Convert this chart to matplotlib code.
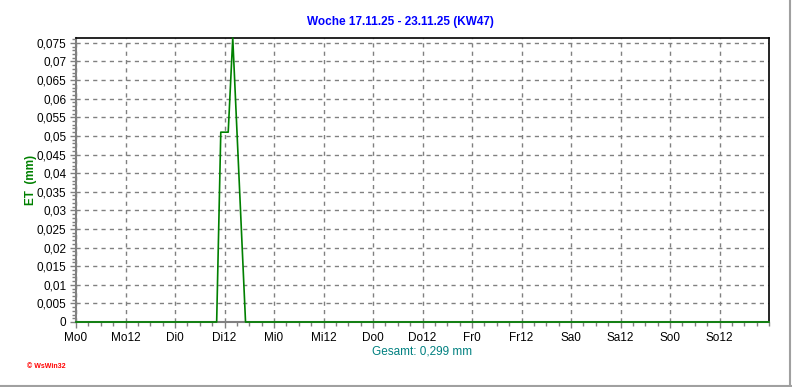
import matplotlib
matplotlib.use("Agg")
import matplotlib.pyplot as plt
from matplotlib.ticker import MultipleLocator
from matplotlib.lines import Line2D

# Data (hours since Monday 0:00, ET in mm)
hours = [0, 34.1, 35.1, 36.9, 38.0, 41.1, 168]
et_values = [0, 0, 0.051, 0.051, 0.0763, 0, 0]

x_tick_pos = [0, 12, 24, 36, 48, 60, 72, 84, 96, 108, 120, 132, 144, 156]
x_tick_labels = ["Mo0", "Mo12", "Di0", "Di12", "Mi0", "Mi12", "Do0", "Do12",
                 "Fr0", "Fr12", "Sa0", "Sa12", "So0", "So12"]
y_tick_pos = [0, 0.005, 0.01, 0.015, 0.02, 0.025, 0.03, 0.035, 0.04, 0.045,
              0.05, 0.055, 0.06, 0.065, 0.07, 0.075]
y_tick_labels = ["0", "0,005", "0,01", "0,015", "0,02", "0,025", "0,03", "0,035",
                 "0,04", "0,045", "0,05", "0,055", "0,06", "0,065", "0,07", "0,075"]

title = "Woche 17.11.25 - 23.11.25 (KW47)"
ylabel = "ET  (mm)"
xlabel = "Gesamt: 0,299 mm"

plt.rcParams['font.family'] = ['Liberation Sans', 'DejaVu Sans']

W, H = 792, 387
fig = plt.figure(figsize=(W / 100, H / 100), dpi=100)
fig.patch.set_facecolor("white")
ax = fig.add_axes([76 / W, 1 - 322 / H, (769 - 76) / W, (322 - 38) / H])

ax.plot(hours, et_values, color="#008000", lw=1.2, clip_on=False, zorder=5)

ax.set_xlim(0, 168)
ax.set_ylim(0, 0.0763)
ax.set_xticks(x_tick_pos)
ax.set_xticklabels(x_tick_labels, fontsize=8.5)
ax.set_yticks(y_tick_pos)
ax.set_yticklabels(y_tick_labels, fontsize=8.5)
ax.xaxis.set_minor_locator(MultipleLocator(3))
ax.yaxis.set_minor_locator(MultipleLocator(0.001))

ax.tick_params(axis="both", which="major", direction="out", length=4,
               color="#808080", width=1, pad=3, labelcolor="black")
ax.tick_params(axis="both", which="minor", direction="out", length=3,
               color="#808080", width=1)

ax.grid(True, which="major", color="#808080", linestyle=(0, (3, 3)), lw=1)

for s in ["top", "right"]:
    ax.spines[s].set_color("black")
    ax.spines[s].set_linewidth(1.2)
for s in ["left", "bottom"]:
    ax.spines[s].set_color("#808080")
    ax.spines[s].set_linewidth(1.5)

fig.text(400 / W, 1 - 22 / H, title, color="#0000FF", fontsize=8.5,
         fontweight="bold", ha="center", va="center")
fig.text(31 / W, 1 - 180 / H, ylabel, color="#008000", fontsize=8.5,
         fontweight="bold", ha="center", va="center", rotation=90)
fig.text(422 / W, 1 - 352 / H, xlabel, color="#008080", fontsize=8.5,
         ha="center", va="center")
fig.text(27 / W, 1 - 367 / H, "\u00a9 WsWin32", color="#FF0000", fontsize=5,
         fontweight="bold", ha="left", va="center")

# figure frame (right and bottom grey border)
fig.add_artist(Line2D([789.5 / W, 789.5 / W], [0, 1], color="#A0A0A0", lw=1.5,
                      transform=fig.transFigure))
fig.add_artist(Line2D([0, 1], [1.0 / H, 1.0 / H], color="#A0A0A0", lw=1.5,
                      transform=fig.transFigure))

fig.savefig("out.png", dpi=100)
